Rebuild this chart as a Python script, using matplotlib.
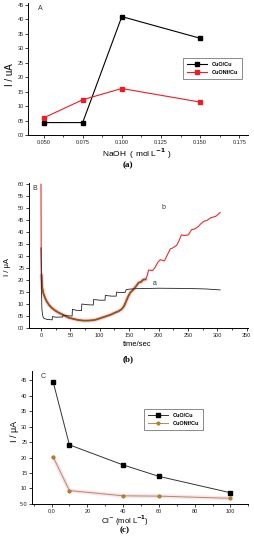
import matplotlib
matplotlib.use("Agg")
import matplotlib.pyplot as plt
import numpy as np
from matplotlib.ticker import FixedLocator, FixedFormatter, MultipleLocator

plt.rcParams['font.family'] = ['Liberation Sans', 'DejaVu Sans']

# ---------------- Data ----------------
# Panel A: current vs NaOH concentration
naoh = [0.050, 0.075, 0.100, 0.150]
a_cuo = [4.3, 4.3, 41.0, 33.5]
a_cuonf = [5.9, 12.2, 16.1, 11.4]

# Panel B: chronoamperometric curves (time in s, current in uA)
curve_a_t = [0, 0.5, 1.5, 3, 5, 10, 19, 19.5, 25, 37, 37.5, 45, 53, 53.5, 60, 69,
             69.5, 80, 89, 89.5, 100, 109, 109.5, 120, 128, 128.5, 135, 143, 145,
             150, 160, 200, 250, 280, 305]
curve_a_i = [33.5, 20, 8, 5, 4.0, 3.6, 3.4, 4.8, 4.5, 4.6, 5.4, 5.1, 5.0, 7.8, 7.4,
             7.3, 10.0, 9.7, 9.6, 11.9, 11.6, 11.6, 13.6, 13.3, 13.3, 15.0, 14.8,
             14.8, 16.0, 16.2, 16.4, 16.6, 16.5, 16.3, 15.9]
curve_b_t = [0, 0.3, 1, 2, 4, 7, 10, 14, 18, 24, 30, 40, 47, 55, 64, 72, 81, 90, 95,
             100, 106, 112, 119, 126, 132, 137, 141, 144, 148, 152, 157, 162, 166,
             170, 174, 178, 181, 183, 190, 194, 199, 203, 210, 215, 220, 224, 231,
             235, 239, 244, 251, 256, 262, 268, 272, 277, 283, 288, 293, 298, 303, 305]
curve_b_i = [60, 35, 22, 17, 14.5, 12.5, 11, 9.5, 8.5, 7.3, 6.4, 5.2, 4.3, 3.8, 3.3,
             3.1, 3.1, 3.3, 3.6, 4.0, 4.5, 5.0, 5.6, 6.4, 7.0, 7.8, 9.0, 10.6, 13,
             14.8, 16, 17.5, 18.9, 19.2, 20.2, 20.3, 22, 24.2, 24.0, 25.2, 27.5, 28.5,
             28, 30.5, 33, 33.4, 34.5, 36.5, 38.9, 38.6, 38.9, 41, 41.4, 42.4, 43.5,
             44.5, 45, 45.9, 46.3, 46.7, 47.8, 48.2]

# Panel C: current vs chloride concentration
chloride = [1, 10, 40, 60, 100]
c_cuo = [44.3, 24.1, 17.6, 13.9, 8.6]
c_cuonf = [20.1, 9.3, 7.6, 7.5, 6.8]

W, H = 255, 550
fig = plt.figure(figsize=(W / 100, H / 100), dpi=100)


def box(l, r, top, bot):
    return [l / W, 1 - bot / H, (r - l) / W, (bot - top) / H]


def style(ax):
    for s in ['top', 'right']:
        ax.spines[s].set_visible(False)
    for s in ['left', 'bottom']:
        ax.spines[s].set_linewidth(0.7)
    ax.tick_params(which='major', direction='out', length=2.2, width=0.6,
                   labelsize=4, pad=1.2, colors='#222222')
    ax.tick_params(which='minor', direction='out', length=1.3, width=0.5)


def place_labels(ax, xl, yl):
    ax.xaxis.set_label_coords(*xl)
    ax.yaxis.set_label_coords(*yl)
    ax.xaxis.label.set_verticalalignment('center')
    ax.yaxis.label.set_verticalalignment('center')


def legend(ax, anchor):
    leg = ax.legend(loc='upper left', bbox_to_anchor=anchor,
                    prop={'size': 4, 'weight': 'bold'}, frameon=True, fancybox=False,
                    edgecolor='#555555', handlelength=3.6, borderpad=0.65,
                    labelspacing=0.6, handletextpad=0.9, borderaxespad=0)
    leg.get_frame().set_linewidth(0.6)
    return leg


# ---------------- Panel A ----------------
axA = fig.add_axes(box(28.5, 248.3, 3.3, 135))
style(axA)
axA.plot(naoh, a_cuo, color='black', lw=0.8, marker='s', ms=2.6, label='CuO/Cu')
axA.plot(naoh, a_cuonf, color='#ee1c25', lw=0.8, marker='s', ms=2.4,
         mfc='#ee1c25', mec='#ee1c25', label='CuONf/Cu')
axA.set_xlim(0.0404, 0.1808)
axA.set_ylim(0, 45.6)
ya = [0, 5, 10, 15, 20, 25, 30, 35, 40, 45]
axA.yaxis.set_major_locator(FixedLocator(ya))
axA.yaxis.set_major_formatter(FixedFormatter(['%02d' % v for v in ya]))
xa = [0.050, 0.075, 0.100, 0.125, 0.150, 0.175]
axA.xaxis.set_major_locator(FixedLocator(xa))
axA.xaxis.set_major_formatter(FixedFormatter(['%.3f' % v for v in xa]))
axA.xaxis.set_minor_locator(MultipleLocator(0.0125))
axA.set_ylabel('I / uA', fontsize=7)
axA.set_xlabel('NaOH  ( mol L$^{\\mathbf{-1}}$ )', fontsize=6)
place_labels(axA, (0.494, -0.14), (-0.084, 0.456))
axA.text(0.045, 0.985, 'A', transform=axA.transAxes, fontsize=5, va='top', color='#333333')
legend(axA, ((183.3 - 28.5) / 219.8, (135 - 58.3) / 131.7))

fig.text(128 / W, 1 - 165.5 / H, '(a)', fontsize=6.5, fontweight='bold',
         family='Liberation Serif', ha='center', va='center')

# ---------------- Panel B ----------------
axB = fig.add_axes(box(29, 248.3, 183.3, 328))
style(axB)
tb = np.array(curve_b_t)
ib = np.array(curve_b_i)
mid = (tb >= 1) & (tb <= 179)
axB.plot(tb[mid], ib[mid], color='#f9d2e6', lw=3.0, solid_capstyle='round', zorder=1)
axB.plot(tb, ib, color='#ee2a2a', lw=0.8, zorder=2)
axB.plot(tb[mid], ib[mid], color='#8e5a12', lw=1.3, zorder=3)
axB.plot(curve_a_t, curve_a_i, color='#222222', lw=0.6, zorder=4)
axB.set_xlim(-20.4, 352.8)
axB.set_ylim(0, 60.4)
yb = list(range(0, 65, 5))
axB.yaxis.set_major_locator(FixedLocator(yb))
axB.yaxis.set_major_formatter(FixedFormatter(['%02d' % v for v in yb]))
axB.xaxis.set_major_locator(MultipleLocator(50))
axB.xaxis.set_minor_locator(MultipleLocator(25))
axB.set_ylabel('I / μA', fontsize=5.5)
axB.set_xlabel('time/sec', fontsize=5.5)
place_labels(axB, (0.494, -0.117), (-0.096, 0.42))
axB.text(0.015, 0.99, 'B', transform=axB.transAxes, fontsize=5, va='top', color='#333333')
axB.text(209, 50.5, 'b', fontsize=5, ha='center', va='center', color='#333333')
axB.text(193, 18.5, 'a', fontsize=5, ha='center', va='center', color='#333333')

fig.text(128 / W, 1 - 359 / H, '(b)', fontsize=6.5, fontweight='bold',
         family='Liberation Serif', ha='center', va='center')

# ---------------- Panel C ----------------
axC = fig.add_axes(box(32, 248.3, 370.7, 504))
style(axC)
axC.plot(chloride, c_cuonf, color='#fbe3ee', lw=3.0, zorder=1)
axC.plot(chloride, c_cuo, color='#333333', lw=0.7, marker='s', ms=2.4,
         mfc='black', mec='black', label='CuO/Cu', zorder=3)
axC.plot(chloride, c_cuonf, color='#b88a5a', lw=0.7, marker='o', ms=2.4,
         mfc='#c08a1e', mec='#8a5a10', mew=0.4, label='CuONf/Cu', zorder=2)
axC.set_xlim(-10.9, 110)
axC.set_ylim(4.95, 48.1)
yc = [5, 10, 15, 20, 25, 30, 35, 40, 45]
axC.yaxis.set_major_locator(FixedLocator(yc))
axC.yaxis.set_major_formatter(FixedFormatter(['5.0'] + [str(v) for v in yc[1:]]))
xc = [0, 20, 40, 60, 80, 100]
axC.xaxis.set_major_locator(FixedLocator(xc))
axC.xaxis.set_major_formatter(FixedFormatter(['0.0'] + [str(v) for v in xc[1:]]))
axC.xaxis.set_minor_locator(MultipleLocator(10))
axC.set_ylabel('I / μA', fontsize=6.5)
axC.set_xlabel('Cl$^{-}$ (mol L$^{\\mathbf{-1}}$)', fontsize=5.5)
place_labels(axC, (0.43, -0.125), (-0.083, 0.542))
axC.text(0.04, 0.985, 'C', transform=axC.transAxes, fontsize=5, va='top', color='#333333')
legend(axC, ((144 - 32) / 216.3, (504 - 409) / 133.3))

fig.text(125 / W, 1 - 530.5 / H, '(c)', fontsize=6.5, fontweight='bold',
         family='Liberation Serif', ha='center', va='center')

fig.savefig('out.png', dpi=100)
